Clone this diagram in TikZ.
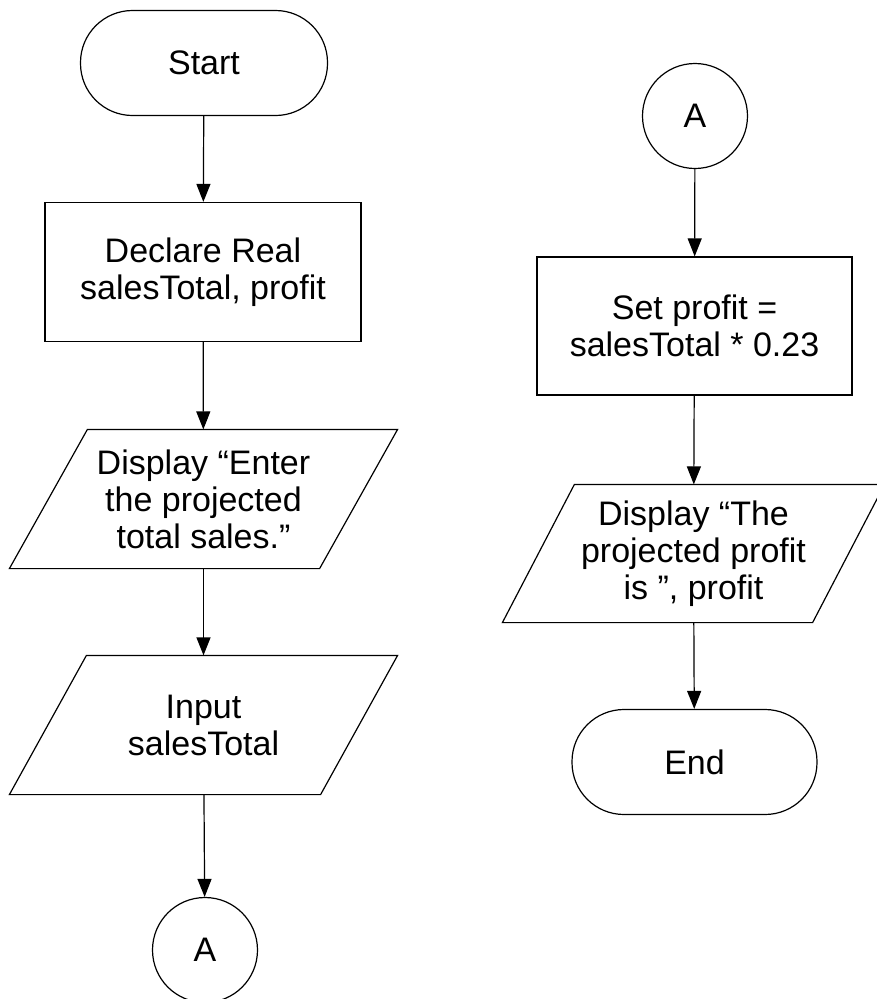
\documentclass[tikz,border=0pt]{standalone}
\usepackage{fontspec}
\setmainfont{Liberation Sans}
\usetikzlibrary{arrows.meta}
\begin{document}
\begin{tikzpicture}[x=1pt,y=-1pt,
  every node/.style={font=\fontsize{34}{37}\selectfont, align=center, line width=1.2pt},
  term/.style={draw, rectangle, rounded corners=52pt, minimum width=247pt, minimum height=105pt},
  procbox/.style={draw, rectangle, minimum width=316pt, minimum height=139pt},
  iobox/.style={rectangle, minimum width=387pt, minimum height=138pt},
  conn/.style={draw, circle, minimum size=105pt, inner sep=0pt},
  flow/.style={line width=1.2pt, -{Triangle[length=18pt,width=14pt]}}]
\useasboundingbox (0,0) rectangle (876,999);
% left column
\node[term] (start) at (204,63) {Start};
\node[procbox] (declare) at (203,272) {Declare Real\\salesTotal, profit};
\node[iobox] (p1) at (203.5,499) {Display “Enter\\the projected\\total sales.”};
\node[iobox] (p2) at (203.5,725) {Input\\salesTotal};
\node[conn] (ca1) at (205,950) {A};
% right column
\node[conn] (ca2) at (695,116) {A};
\node[procbox, minimum width=315pt, minimum height=138pt] (set) at (694.5,326) {Set profit =\\salesTotal * 0.23};
\node[iobox, minimum width=381pt, minimum height=137pt] (p3) at (693.5,553.5) {Display “The\\projected profit\\is ”, profit};
\node[term, minimum width=245pt] (end) at (694.5,762) {End};
% parallelogram outlines
\foreach \n/\o in {p1/78, p2/77, p3/72} {
  \draw[line width=1.2pt] ([xshift=\o pt]\n.north west) -- (\n.north east)
    -- ([xshift=-\o pt]\n.south east) -- (\n.south west) -- cycle;
}
% connectors
\draw[flow] (start) -- (declare);
\draw[flow] (declare) -- (p1);
\draw[flow] (p1) -- (p2);
\draw[flow] (p2) -- (ca1);
\draw[flow] (ca2) -- (set);
\draw[flow] (set) -- (p3);
\draw[flow] (p3) -- (end);
\end{tikzpicture}
\end{document}
